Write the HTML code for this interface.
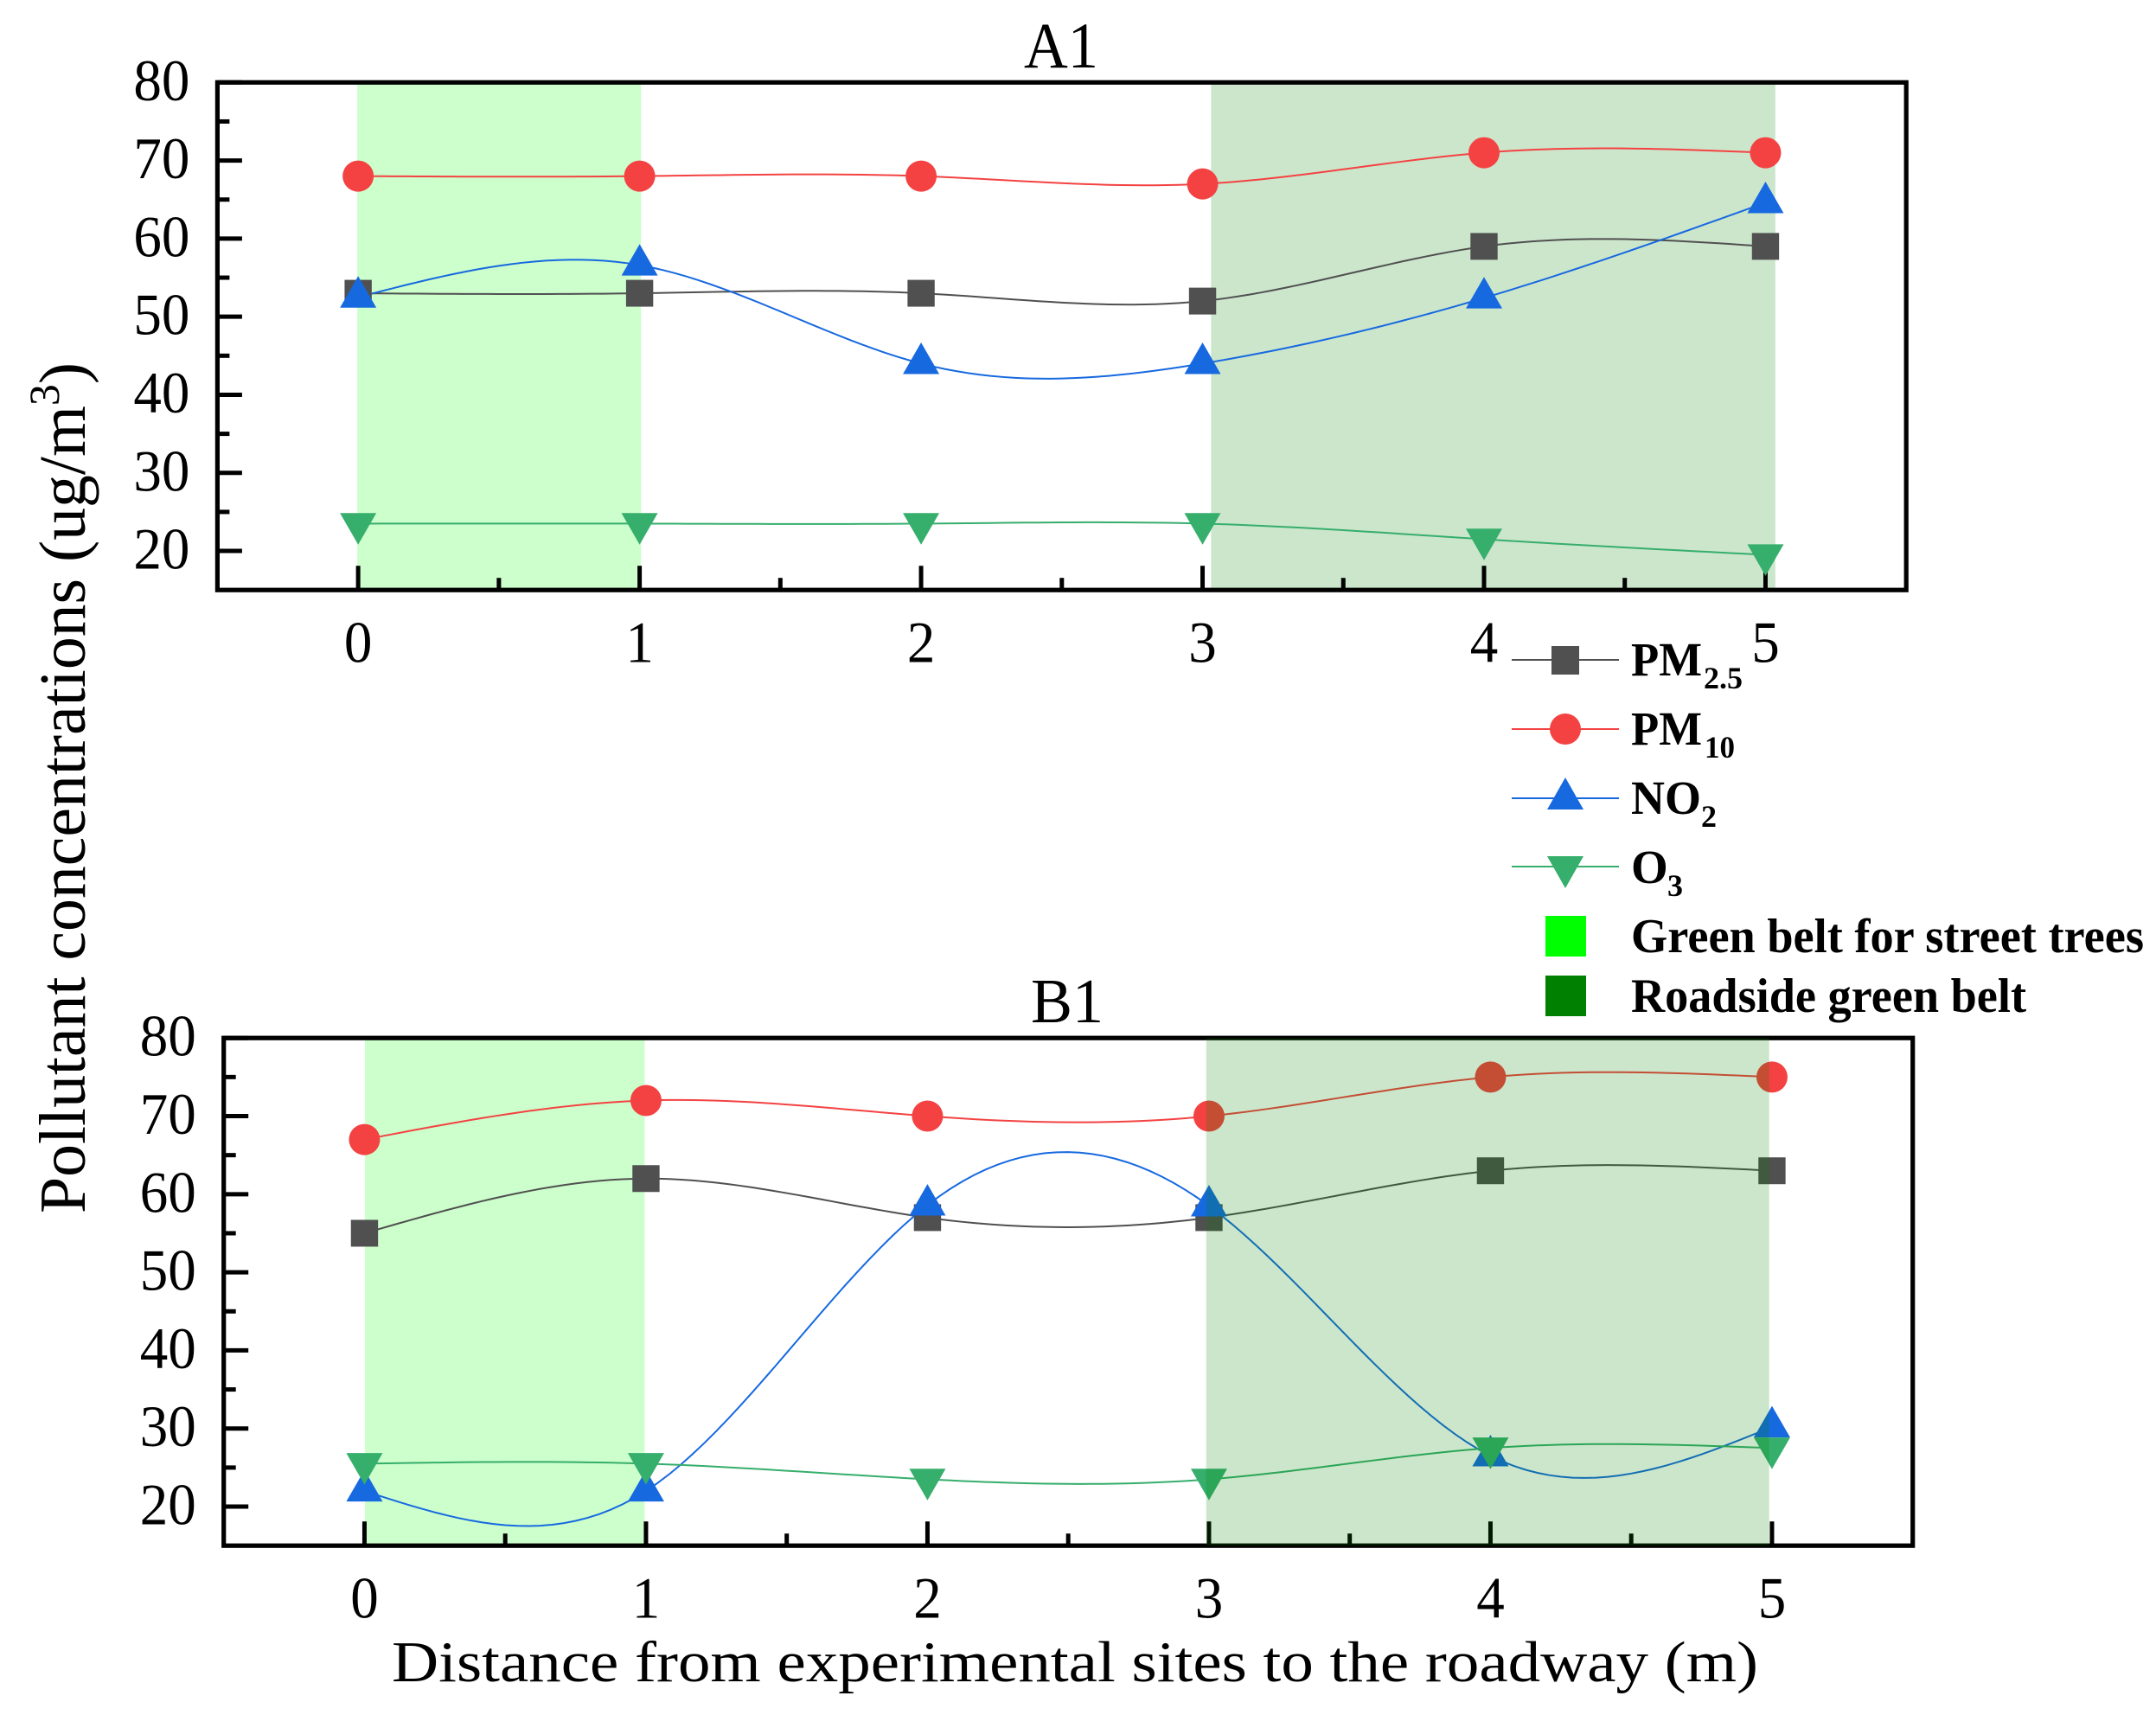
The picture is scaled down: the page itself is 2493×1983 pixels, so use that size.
<!DOCTYPE html>
<html lang="en">
<head>
<meta charset="utf-8">
<title>Pollutant concentrations vs distance from roadway</title>
<style>
html,body{margin:0;padding:0;background:#fff;}
svg{display:block;}
text{font-family:"Liberation Serif","Times New Roman",serif;fill:#000;}
</style>
</head>
<body>
<svg id="chart" xmlns="http://www.w3.org/2000/svg" width="2493" height="1983" viewBox="0 0 2493 1983">
  <rect x="0" y="0" width="2493" height="1983" fill="#ffffff"/>
  <g id="panelA"></g>
  <g id="panelB"></g>

  <text x="1184" y="78" font-size="75" textLength="86" lengthAdjust="spacingAndGlyphs">A1</text>
  <text x="1192" y="1182" font-size="73" textLength="84" lengthAdjust="spacingAndGlyphs">B1</text>

  <text transform="translate(98,1403) rotate(-90)" x="0" y="0" font-size="76" textLength="984" lengthAdjust="spacingAndGlyphs">Pollutant concentrations (ug/m<tspan font-size="50" dy="-30">3</tspan><tspan dy="30">)</tspan></text>
  <text x="453" y="1944" font-size="67" textLength="1580" lengthAdjust="spacingAndGlyphs">Distance from experimental sites to the roadway (m)</text>

  <g font-weight="bold">
    <g>
      <line x1="1748" x2="1872" y1="763" y2="763" stroke="#505050" stroke-width="2"/>
      <rect x="1794" y="747" width="32" height="33" fill="#505050"/>
      <text x="1886" y="781" font-size="55" font-weight="bold" textLength="82" lengthAdjust="spacingAndGlyphs">PM</text>
      <text x="1970" y="796" font-size="36" font-weight="bold" textLength="45" lengthAdjust="spacingAndGlyphs">2.5</text>
    </g>
    <g>
      <line x1="1748" x2="1872" y1="843" y2="843" stroke="#f44242" stroke-width="2"/>
      <circle cx="1810" cy="843" r="18" fill="#f44242"/>
      <text x="1886" y="861" font-size="55" font-weight="bold" textLength="82" lengthAdjust="spacingAndGlyphs">PM</text>
      <text x="1971" y="876" font-size="36" font-weight="bold" textLength="35" lengthAdjust="spacingAndGlyphs">10</text>
    </g>
    <g>
      <line x1="1748" x2="1872" y1="923" y2="923" stroke="#1769e0" stroke-width="2"/>
      <polygon points="1810,899 1831,936 1789,936" fill="#1769e0"/>
      <text x="1886" y="941" font-size="55" font-weight="bold" textLength="81" lengthAdjust="spacingAndGlyphs">NO</text>
      <text x="1967" y="956" font-size="36" font-weight="bold">2</text>
    </g>
    <g>
      <line x1="1748" x2="1872" y1="1002" y2="1002" stroke="#36ae6c" stroke-width="2"/>
      <polygon points="1789,990 1831,990 1810,1027" fill="#36ae6c"/>
      <text x="1886" y="1021" font-size="55" font-weight="bold">O</text>
      <text x="1928" y="1036" font-size="36" font-weight="bold">3</text>
    </g>
    <g>
      <rect x="1787" y="1059" width="47" height="47" fill="#00ff00"/>
      <text x="1886" y="1101" font-size="56" font-weight="bold" textLength="593" lengthAdjust="spacingAndGlyphs">Green belt for street trees</text>
    </g>
    <g>
      <rect x="1787" y="1128" width="47" height="47" fill="#008000"/>
      <text x="1886" y="1170" font-size="56" font-weight="bold" textLength="457" lengthAdjust="spacingAndGlyphs">Roadside green belt</text>
    </g>
  </g>
</svg>

<script>
// ---- Data ----
const distances = [0, 1, 2, 3, 4, 5];
const xMajorTickLabels = ["0", "1", "2", "3", "4", "5"];
const xMinorTickValues = [0.5, 1.5, 2.5, 3.5, 4.5];
const yMajorTickValues = [20, 30, 40, 50, 60, 70, 80];
const yMajorTickLabels = ["20", "30", "40", "50", "60", "70", "80"];
const yMinorTickValues = [25, 35, 45, 55, 65, 75];

const a1Pm25 = [53, 53, 53, 52, 59, 59];
const a1Pm10 = [68, 68, 68, 67, 71, 71];
const a1No2 = [52.5, 56.6, 44, 44, 52.4, 64.6];
const a1O3 = [23.5, 23.5, 23.5, 23.5, 21.5, 19.5];

const b1Pm25 = [55, 62, 57, 57, 63, 63];
const b1Pm10 = [67, 72, 70, 70, 75, 75];
const b1No2 = [22, 22, 58.6, 58.5, 26.5, 30.2];
const b1O3 = [25.5, 25.5, 23.5, 23.5, 27.5, 27.5];

const a1LightBand = [0, 1.005];
const a1DarkBand = [3.03, 5.035];
const b1LightBand = [0.005, 0.995];
const b1DarkBand = [2.99, 4.99];

// ---- Rendering ----
const NS = "http://www.w3.org/2000/svg";
const X_MIN = -0.5, X_MAX = 5.5, Y_MIN = 15, Y_MAX = 80;

function make(tag, attrs, parent) {
  const el = document.createElementNS(NS, tag);
  for (const k in attrs) el.setAttribute(k, attrs[k]);
  parent.appendChild(el);
  return el;
}

// natural cubic spline through (xs, ys), sampled finely
function splinePoints(xs, ys, steps) {
  const n = xs.length;
  const h = [], alpha = [0], l = [1], mu = [0], z = [0];
  const c = new Array(n).fill(0), b = new Array(n).fill(0), d = new Array(n).fill(0);
  for (let i = 0; i < n - 1; i++) h.push(xs[i + 1] - xs[i]);
  for (let i = 1; i < n - 1; i++) {
    alpha[i] = 3 / h[i] * (ys[i + 1] - ys[i]) - 3 / h[i - 1] * (ys[i] - ys[i - 1]);
    l[i] = 2 * (xs[i + 1] - xs[i - 1]) - h[i - 1] * mu[i - 1];
    mu[i] = h[i] / l[i];
    z[i] = (alpha[i] - h[i - 1] * z[i - 1]) / l[i];
  }
  for (let j = n - 2; j >= 0; j--) {
    c[j] = z[j] - mu[j] * c[j + 1];
    b[j] = (ys[j + 1] - ys[j]) / h[j] - h[j] * (c[j + 1] + 2 * c[j]) / 3;
    d[j] = (c[j + 1] - c[j]) / (3 * h[j]);
  }
  const pts = [];
  for (let i = 0; i < n - 1; i++) {
    for (let s = 0; s < steps; s++) {
      const t = h[i] * s / steps;
      pts.push([xs[i] + t, ys[i] + b[i] * t + c[i] * t * t + d[i] * t * t * t]);
    }
  }
  pts.push([xs[n - 1], ys[n - 1]]);
  return pts;
}

function drawPanel(group, prefix, geom, series, lightBand, darkBand, darkOnTop) {
  const xAt = v => geom.left + (v - X_MIN) / (X_MAX - X_MIN) * (geom.right - geom.left);
  const yAt = v => geom.bottom - (v - Y_MIN) / (Y_MAX - Y_MIN) * (geom.bottom - geom.top);

  const light = make("rect", {x: xAt(lightBand[0]) - 1, y: geom.top, width: xAt(lightBand[1]) - xAt(lightBand[0]) + 1, height: geom.bottom - geom.top, fill: "#ccffcc"}, group);
  
  

  function addDark() {
    const dark = make("rect", {x: xAt(darkBand[0]), y: geom.top, width: xAt(darkBand[1]) - xAt(darkBand[0]), height: geom.bottom - geom.top, fill: "#008000", "fill-opacity": 0.2}, group);
    
    
  }
  if (!darkOnTop) addDark();

  // y ticks
  yMajorTickValues.forEach((v, i) => {
    const t = make("line", {x1: geom.left, x2: geom.left + 28.5, y1: yAt(v), y2: yAt(v), stroke: "#000", "stroke-width": 5}, group);
    
    
    const lab = make("text", {x: geom.left - 32, y: yAt(v) + 20.5, "font-size": 68, "text-anchor": "end", textLength: 65, lengthAdjust: "spacingAndGlyphs"}, group);
    lab.textContent = yMajorTickLabels[i];
    
    
  });
  yMinorTickValues.forEach(v => {
    const t = make("line", {x1: geom.left, x2: geom.left + 14, y1: yAt(v), y2: yAt(v), stroke: "#000", "stroke-width": 5}, group);
    
    
  });

  // x ticks
  distances.forEach((v, i) => {
    const t = make("line", {x1: xAt(v), x2: xAt(v), y1: geom.bottom, y2: geom.bottom - 28, stroke: "#000", "stroke-width": 5}, group);
    
    
    const lab = make("text", {x: xAt(v), y: geom.labelBaseline, "font-size": 68, "text-anchor": "middle", textLength: 32.5, lengthAdjust: "spacingAndGlyphs"}, group);
    lab.textContent = xMajorTickLabels[i];
    
    
  });
  xMinorTickValues.forEach(v => {
    const t = make("line", {x1: xAt(v), x2: xAt(v), y1: geom.bottom, y2: geom.bottom - 14, stroke: "#000", "stroke-width": 5}, group);
    
    
  });

  // frame
  const frame = make("rect", {x: geom.left, y: geom.top, width: geom.right - geom.left, height: geom.bottom - geom.top, fill: "none", stroke: "#000", "stroke-width": 5.2}, group);
  
  

  // series
  series.forEach(s => {
    const d = splinePoints(distances, s.values, 24).map((p, i) => (i ? "L" : "M") + xAt(p[0]).toFixed(2) + " " + yAt(p[1]).toFixed(2)).join(" ");
    const path = make("path", {d: d, fill: "none", stroke: s.color, "stroke-width": 2}, group);
    
    
  });
  series.forEach(s => {
    s.values.forEach((v, i) => {
      const cx = xAt(distances[i]), cy = yAt(v);
      let m;
      if (s.shape === "square") {
        m = make("rect", {x: cx - 15.7, y: cy - 15.5, width: 31.4, height: 31, fill: s.color}, group);
      } else if (s.shape === "circle") {
        m = make("circle", {cx: cx, cy: cy, r: 18, fill: s.color}, group);
      } else if (s.shape === "up") {
        m = make("polygon", {points: [cx, cy - 24.3, cx + 21, cy + 12.1, cx - 21, cy + 12.1].join(","), fill: s.color}, group);
      } else {
        m = make("polygon", {points: [cx - 21, cy - 12.2, cx + 21, cy - 12.2, cx, cy + 24.3].join(","), fill: s.color}, group);
      }
      
      
    });
  });

  if (darkOnTop) addDark();
}

function seriesOf(pm25, pm10, no2, o3) {
  return [
    {key: "pm25", values: pm25, color: "#505050", shape: "square"},
    {key: "pm10", values: pm10, color: "#f44242", shape: "circle"},
    {key: "no2", values: no2, color: "#1769e0", shape: "up"},
    {key: "o3", values: o3, color: "#36ae6c", shape: "down"}
  ];
}

drawPanel(document.getElementById("panelA"), "a1",
  {left: 251.4, right: 2204.2, top: 95.3, bottom: 682.2, labelBaseline: 765.5},
  seriesOf(a1Pm25, a1Pm10, a1No2, a1O3), a1LightBand, a1DarkBand, false);
drawPanel(document.getElementById("panelB"), "b1",
  {left: 258.7, right: 2211.7, top: 1200.2, bottom: 1787.2, labelBaseline: 1870.5},
  seriesOf(b1Pm25, b1Pm10, b1No2, b1O3), b1LightBand, b1DarkBand, true);
</script>
</body>
</html>
